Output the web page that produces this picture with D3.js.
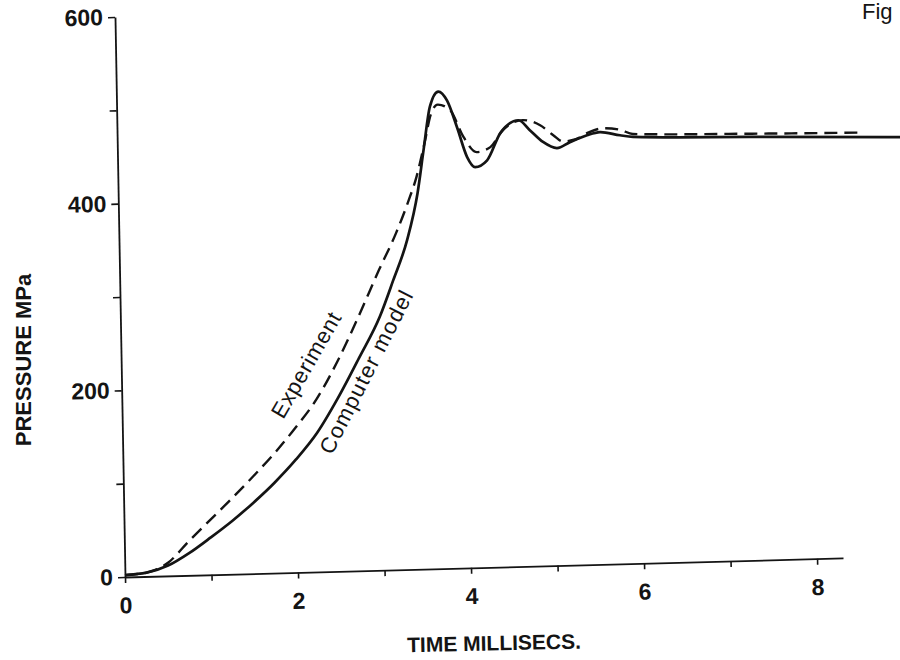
<!DOCTYPE html>
<html>
<head>
<meta charset="utf-8">
<script src="https://cdn.jsdelivr.net/npm/d3@7"></script>
<style>
  body { margin: 0; background: #fff; }
</style>
</head>
<body>
<svg id="chart" width="900" height="660"></svg>
<script>
// Axis ticks and labels
const timeTicks = [0, 1, 2, 3, 4, 5, 6, 7, 8];
const timeLabels = [0, 2, 4, 6, 8];
const pressureTicks = [0, 100, 200, 300, 400, 500, 600];
const pressureLabels = [0, 200, 400, 600];

// Computer model (solid): time in ms, pressure in MPa
const modelTime = [0, 0.25, 0.5, 0.75, 1.0, 1.25, 1.5, 1.75, 2.0, 2.25, 2.5, 2.75, 3.0, 3.16, 3.33, 3.46, 3.54, 3.62, 3.72,
  3.82, 3.93, 4.04, 4.13, 4.27, 4.43, 4.64, 4.77, 4.92, 5.08, 5.23, 5.43, 5.58, 5.81, 5.96, 7.32, 9.1];
const modelPressure = [2, 4, 11, 24, 40, 57, 76, 97, 121, 149, 186, 228, 272, 310, 353, 403, 450, 495, 511,
  501, 472, 440, 429, 436, 465, 478, 467, 454, 447, 453, 460, 463, 459, 457, 453.5, 449];

// Experiment (dashed)
const expTime = [0, 0.25, 0.5, 0.75, 1.0, 1.25, 1.5, 1.75, 2.0, 2.25, 2.5, 2.75, 3.0, 3.2, 3.35, 3.45, 3.55, 3.63, 3.71,
  3.85, 4.0, 4.15, 4.31, 4.46, 4.69, 4.89, 5.04, 5.15, 5.3, 5.45, 5.62, 5.81, 5.96, 7.32, 8.6];
const expPressure = [2, 4, 14, 37, 59, 81, 104, 128, 155, 185, 225, 272, 322, 360, 394, 420, 456, 487, 497,
  491, 462, 445, 450, 468, 478, 472, 461, 454, 456, 463, 467, 465, 460, 457, 455];

const ink = "#141414";
const font = "'Liberation Sans', Arial, Helvetica, sans-serif";

const svg = d3.select("#chart");

const x = d3.scaleLinear().domain([0, 8.3]).range([0, 718]);
const y = d3.scaleLinear().domain([0, 600]).range([0, -560]);

// The printed frame sits slightly askew on the page
const plot = svg.append("g")
  .attr("transform", "matrix(1,-0.0265,0.0179,1,125,577)");

const xAxis = plot.append("g")
  .call(d3.axisBottom(x)
    .tickValues(timeTicks)
    .tickSize(6)
    .tickSizeOuter(0)
    .tickPadding(14)
    .tickFormat(d => timeLabels.includes(d) ? d : ""));

const yAxis = plot.append("g")
  .call(d3.axisLeft(y)
    .tickValues(pressureTicks)
    .tickSize(7)
    .tickSizeOuter(0)
    .tickPadding(5)
    .tickFormat(d => pressureLabels.includes(d) ? d : ""));

[xAxis, yAxis].forEach(a => {
  a.select(".domain").attr("stroke", ink).attr("stroke-width", 1.8);
  a.selectAll(".tick line").attr("stroke", ink).attr("stroke-width", 1.6);
  a.selectAll(".tick text")
    .attr("fill", ink)
    .style("font-family", font)
    .style("font-weight", "bold")
    .style("font-size", "23px");
});

const line = (xs, ys) => d3.line()
  .x((d, i) => x(xs[i]))
  .y((d, i) => y(ys[i]))
  .curve(d3.curveMonotoneX)(xs);

plot.append("path")
  .attr("d", line(expTime, expPressure))
  .attr("fill", "none")
  .attr("stroke", ink)
  .attr("stroke-width", 2.4)
  .attr("stroke-dasharray", "13,7");

plot.append("path")
  .attr("d", line(modelTime, modelPressure))
  .attr("fill", "none")
  .attr("stroke", ink)
  .attr("stroke-width", 2.7);

// Curve annotations
svg.append("text")
  .attr("transform", "translate(306,365) rotate(-60)")
  .attr("text-anchor", "middle")
  .attr("dy", "0.35em")
  .attr("textLength", 118)
  .attr("lengthAdjust", "spacing")
  .style("font-family", font)
  .style("font-size", "22px")
  .attr("fill", ink)
  .text("Experiment");

svg.append("text")
  .attr("transform", "translate(366,372) rotate(-63)")
  .attr("text-anchor", "middle")
  .attr("dy", "0.35em")
  .attr("textLength", 180)
  .attr("lengthAdjust", "spacing")
  .style("font-family", font)
  .style("font-size", "22px")
  .attr("fill", ink)
  .text("Computer model");

// Axis titles
svg.append("text")
  .attr("transform", "translate(494,643) rotate(-1.2)")
  .attr("text-anchor", "middle")
  .attr("dy", "0.35em")
  .style("font-family", font)
  .style("font-weight", "bold")
  .style("font-size", "21px")
  .attr("fill", ink)
  .text("TIME MILLISECS.");

svg.append("text")
  .attr("transform", "translate(23,360) rotate(-90)")
  .attr("text-anchor", "middle")
  .attr("dy", "0.35em")
  .style("font-family", font)
  .style("font-weight", "bold")
  .style("font-size", "22px")
  .attr("fill", ink)
  .text("PRESSURE MPa");

// Figure caption in the top corner
svg.append("text")
  .attr("x", 862)
  .attr("y", 19)
  .style("font-family", font)
  .style("font-size", "22px")
  .attr("fill", ink)
  .text("Fig");
</script>
</body>
</html>
